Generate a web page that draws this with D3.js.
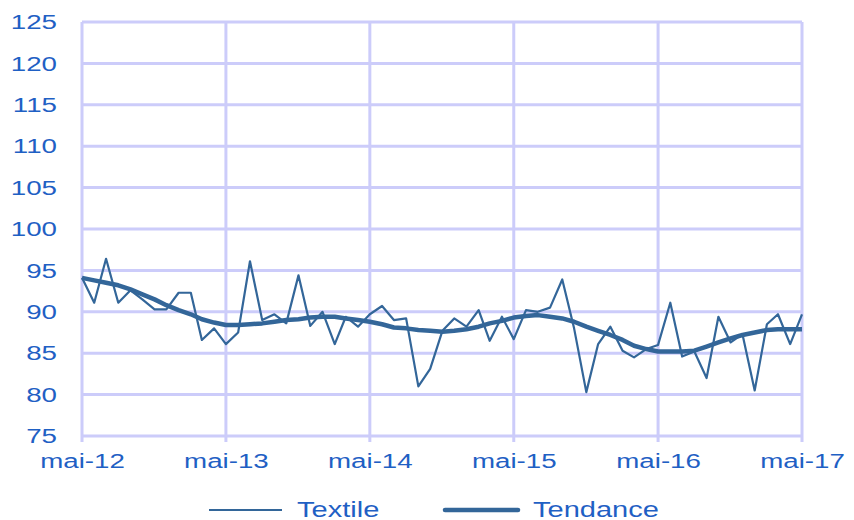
<!DOCTYPE html>
<html>
<head>
<meta charset="utf-8">
<script src="https://cdn.jsdelivr.net/npm/d3@7"></script>
<style>
  body { margin: 0; background: #fff; }
  svg { display: block; font-family: "Liberation Sans", Arial, sans-serif; }
</style>
</head>
<body>
<svg id="chart"></svg>
<script>
// monthly index, May 2012 -> May 2017
const startMonth = new Date(2012, 4, 1);

const textile = [
  94.1, 91.1, 96.4, 91.1, 92.6, 91.5, 90.3, 90.3, 92.3, 92.3, 86.6, 88.0,
  86.1, 87.5, 96.1, 89.0, 89.7, 88.6, 94.4, 88.3, 90.0, 86.1, 89.4, 88.2,
  89.7, 90.7, 89.0, 89.2, 81.0, 83.1, 87.7, 89.2, 88.2, 90.2, 86.5, 89.4,
  86.7, 90.2, 90.0, 90.5, 93.9, 88.0, 80.3, 86.1, 88.2, 85.3, 84.5, 85.5,
  86.0, 91.1, 84.6, 85.2, 82.0, 89.4, 86.3, 87.3, 80.5, 88.5, 89.7, 86.1,
  89.7
];

const tendance = [
  94.1, 93.8, 93.5, 93.2, 92.7, 92.1, 91.5, 90.8, 90.2, 89.7, 89.1, 88.7,
  88.4, 88.4, 88.5, 88.6, 88.8, 89.0, 89.1, 89.3, 89.4, 89.4, 89.2, 89.0,
  88.8, 88.5, 88.1, 88.0, 87.8, 87.7, 87.6, 87.7, 87.9, 88.2, 88.6, 88.9,
  89.3, 89.5, 89.6, 89.4, 89.2, 88.8, 88.2, 87.7, 87.2, 86.6, 85.9, 85.5,
  85.2, 85.2, 85.2, 85.3, 85.8, 86.3, 86.8, 87.2, 87.5, 87.8, 87.9, 87.9,
  87.9
];

const seriesNames = ["Textile", "Tendance"];
const xTickLabels = ["mai-12", "mai-13", "mai-14", "mai-15", "mai-16", "mai-17"];
const yTicks = [75, 80, 85, 90, 95, 100, 105, 110, 115, 120, 125];

const width = 854;
const height = 520;
const margin = { top: 22, right: 52, bottom: 84, left: 82 };

const gridColor = "#CCCCFA";
const lineColor = "#336699";
const textColor = "#1F60C4";
const stretch = 1.32; // the reference text is drawn wide

const months = textile.map((d, i) => d3.timeMonth.offset(startMonth, i));
const yearTicks = xTickLabels.map((d, i) => d3.timeMonth.offset(startMonth, 12 * i));

const svg = d3.select("#chart")
  .attr("width", width)
  .attr("height", height);

const x = d3.scaleTime()
  .domain([months[0], months[months.length - 1]])
  .range([margin.left, width - margin.right]);

const y = d3.scaleLinear()
  .domain([75, 125])
  .range([height - margin.bottom, margin.top]);

// horizontal grid
svg.append("g")
  .attr("class", "y grid")
  .selectAll("line")
  .data(yTicks)
  .enter()
  .append("line")
  .attr("x1", margin.left)
  .attr("x2", width - margin.right)
  .attr("y1", (d) => y(d))
  .attr("y2", (d) => y(d))
  .attr("stroke", gridColor)
  .attr("stroke-width", 3);

// vertical grid at each year, with a small tick below the axis
svg.append("g")
  .attr("class", "x grid")
  .selectAll("line")
  .data(yearTicks)
  .enter()
  .append("line")
  .attr("x1", (d) => x(d))
  .attr("x2", (d) => x(d))
  .attr("y1", margin.top)
  .attr("y2", height - margin.bottom + 6)
  .attr("stroke", gridColor)
  .attr("stroke-width", 3);

// x axis labels
const xAxis = d3.axisBottom(x)
  .tickValues(yearTicks)
  .tickFormat((d, i) => xTickLabels[i])
  .tickSize(0)
  .tickPadding(17);

svg.append("g")
  .attr("class", "x axis")
  .attr("transform", `translate(0, ${height - margin.bottom})`)
  .call(xAxis)
  .call((g) => g.select(".domain").remove())
  .selectAll("text")
  .attr("fill", textColor)
  .attr("transform", `scale(${stretch},1)`)
  .style("font-size", "21px");

// y axis labels
const yAxis = d3.axisLeft(y)
  .tickValues(yTicks)
  .tickSize(0);

svg.append("g")
  .attr("class", "y axis")
  .attr("transform", `translate(${margin.left}, 0)`)
  .call(yAxis)
  .call((g) => g.select(".domain").remove())
  .selectAll("text")
  .attr("x", -25 / stretch)
  .attr("fill", textColor)
  .attr("transform", `scale(${stretch},1)`)
  .style("font-size", "21px");

const line = d3.line()
  .x((d, i) => x(months[i]))
  .y((d) => y(d));

svg.append("path")
  .datum(tendance)
  .attr("class", "tendance")
  .attr("d", line)
  .attr("fill", "none")
  .attr("stroke", lineColor)
  .attr("stroke-width", 4.5)
  .attr("stroke-linejoin", "round");

svg.append("path")
  .datum(textile)
  .attr("class", "textile")
  .attr("d", line)
  .attr("fill", "none")
  .attr("stroke", lineColor)
  .attr("stroke-width", 2.2)
  .attr("stroke-linejoin", "round");

// legend
const legend = svg.append("g").attr("class", "legend");
const legendItems = [
  { name: seriesNames[0], x: 209, w: 2.2 },
  { name: seriesNames[1], x: 445, w: 4.5 }
];

legendItems.forEach((item) => {
  legend.append("line")
    .attr("x1", item.x)
    .attr("x2", item.x + 73)
    .attr("y1", 510)
    .attr("y2", 510)
    .attr("stroke", lineColor)
    .attr("stroke-width", item.w)
    .attr("stroke-linecap", item.w > 3 ? "round" : "butt");
  legend.append("text")
    .attr("transform", `translate(${item.x + 88}, 517) scale(${stretch},1)`)
    .attr("fill", textColor)
    .style("font-size", "22px")
    .text(item.name);
});
</script>
</body>
</html>
